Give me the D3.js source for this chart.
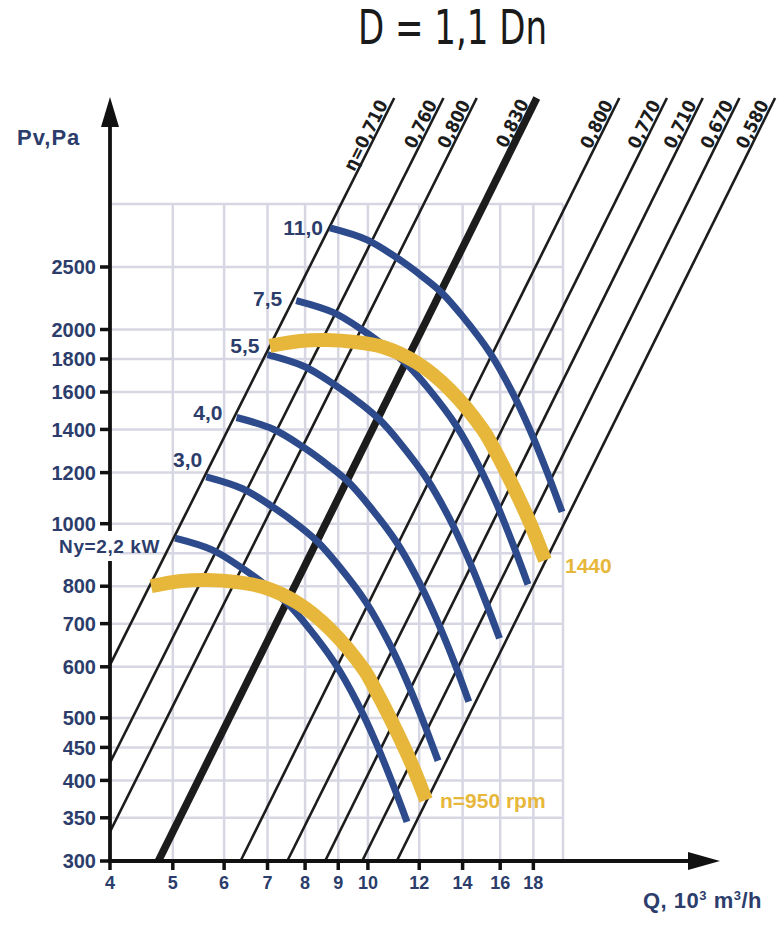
<!DOCTYPE html>
<html><head><meta charset="utf-8">
<script src="https://cdn.jsdelivr.net/npm/d3@7"></script>
<style>body{margin:0;background:#fff}</style>
</head><body>
<svg id="c" width="782" height="943"></svg>
<script>
// ---------- DATA ----------
const xTicks = [4,5,6,7,8,9,10,12,14,16,18];
const xGrid  = [5,6,7,8,9,10,12,14,16,18,20];
const yTicks = [300,350,400,450,500,600,700,800,1000,1200,1400,1600,1800,2000,2500];
const yGrid  = [350,400,450,500,600,700,800,900,1000,1200,1400,1600,1800,2000,2500,3130];
const gridMaxQ = 20, gridMaxP = 3130;

// efficiency lines (system lines), start and end points [Q, Pv]
const effLabels = ["η=0,710","0,760","0,800","0,830","0,800","0,770","0,710","0,670","0,580"];
const effStart  = [[4,604],[4,426],[4,333],[4.75,300],[6.36,300],[7.51,300],[8.59,300],[9.80,300],[11.08,300]];
const effEnd    = [[10.98,4570],[13.08,4570],[14.72,4570],[18.22,4570],[24.43,4570],[28.93,4570],[32.86,4570],[37.44,4570],[42.49,4570]];
const effBest   = 3; // index of the bold (peak) line

// motor power curves
const powerLabels = ["Ny=2,2 kW","3,0","4,0","5,5","7,5","11,0"];
const powerQ = [
  [5.04,5.75,6.39,7.01,7.50,8.08,8.89,9.62,10.25,10.89,11.49],
  [5.63,6.42,7.14,7.83,8.37,9.02,9.93,10.74,11.45,12.16,12.83],
  [6.27,7.16,7.96,8.73,9.34,10.06,11.08,11.98,12.77,13.57,14.31],
  [7.00,7.98,8.88,9.74,10.42,11.23,12.35,13.36,14.24,15.13,15.96],
  [7.75,8.84,9.83,10.78,11.53,12.43,13.68,14.79,15.77,16.75,17.66],
  [8.74,9.97,11.09,12.16,13.01,14.02,15.43,16.69,17.79,18.90,19.93]
];
const powerP = [
  [950,911,854,798,754,692,608,529,462,398,345],
  [1182,1132,1061,992,937,860,756,658,574,495,429],
  [1461,1400,1313,1227,1159,1064,935,814,710,612,530],
  [1829,1753,1643,1536,1450,1331,1171,1019,889,766,664],
  [2218,2126,1993,1862,1759,1615,1420,1236,1078,928,805],
  [2874,2754,2582,2413,2279,2092,1840,1601,1397,1203,1043]
];

// fan speed curves
const speedLabels = ["n=950 rpm","1440"];
const speedQ = [
  [4.63,5.15,5.67,6.26,6.91,7.80,8.77,9.87,10.22,10.86,11.66,12.29],
  [7.06,7.86,8.65,9.55,10.55,11.91,13.39,15.06,15.60,16.57,17.79,18.76]
];
const speedP = [
  [800,815,818,812,797,753,684,593,558,496,426,373],
  [1886,1920,1927,1913,1879,1775,1612,1397,1315,1169,1003,878]
];

// ---------- STYLE / LAYOUT ----------
const NAVY = "#2c3d6c", BLUE = "#2d4b8c", GOLD = "#e7b73b", GRID = "#d7d7e3", INK = "#1c1c1c";
const powerLabelOffset = [[-15,15],[-4,-10],[-14,3],[-8,-2],[-14,5],[-7,7]];
const speedLabelOffset = [[14,8],[20,13]];

const svg = d3.select("#c");
const x = d3.scaleLog().domain([4,20]).range([110,563]);
const y = d3.scaleLog().domain([300,2500]).range([861,267]);
const x0 = x(4), y0 = y(300);
const FONT = "'Liberation Sans', Arial, sans-serif";
const COND = "'DejaVu Sans Condensed', 'Liberation Sans Narrow', sans-serif";

// grid
const g = svg.append("g");
g.selectAll(".vg").data(xGrid).join("line")
  .attr("x1", d => x(d)).attr("x2", d => x(d))
  .attr("y1", y0).attr("y2", y(gridMaxP))
  .attr("stroke", GRID).attr("stroke-width", 2.5);
g.selectAll(".hg").data(yGrid).join("line")
  .attr("x1", x0).attr("x2", x(gridMaxQ))
  .attr("y1", d => y(d)).attr("y2", d => y(d))
  .attr("stroke", GRID).attr("stroke-width", 2.5);

// efficiency lines
const eff = effLabels.map((l,i) => ({label:l, s:effStart[i], e:effEnd[i], best:i===effBest}));
svg.append("g").selectAll("line").data(eff).join("line")
  .attr("x1", d => x(d.s[0])).attr("y1", d => y(d.s[1]))
  .attr("x2", d => x(d.e[0])).attr("y2", d => y(d.e[1]))
  .attr("stroke", INK).attr("stroke-width", d => d.best ? 7.5 : 2.6);

const effLab = svg.append("g");
eff.forEach(d => {
  const p0 = [x(d.s[0]), y(d.s[1])], p1 = [x(d.e[0]), y(d.e[1])];
  const ang = Math.atan2(p1[1]-p0[1], p1[0]-p0[0]);
  const ux = Math.cos(ang), uy = Math.sin(ang);
  const nx = uy, ny = -ux;
  const back = 8, off = d.best ? 4.5 : 2.5;
  const tx = p1[0] - ux*back + nx*off, ty = p1[1] - uy*back + ny*off;
  effLab.append("text")
    .attr("transform", `translate(${tx},${ty}) rotate(${ang*180/Math.PI})`)
    .attr("text-anchor", "end")
    .attr("font-family", COND).attr("font-weight", "bold").attr("font-size", 18)
    .attr("fill", INK).text(d.label);
});

const line = d3.line().x(d => x(d[0])).y(d => y(d[1])).curve(d3.curveCatmullRom.alpha(0.5));

// power curves
const power = powerLabels.map((l,i) => ({label:l, pts: powerQ[i].map((q,j) => [q, powerP[i][j]]), off: powerLabelOffset[i]}));
svg.append("g").selectAll("path").data(power).join("path")
  .attr("d", d => line(d.pts)).attr("fill", "none")
  .attr("stroke", BLUE).attr("stroke-width", 7);

// speed curves
const speed = speedLabels.map((l,i) => ({label:l, pts: speedQ[i].map((q,j) => [q, speedP[i][j]]), off: speedLabelOffset[i]}));
svg.append("g").selectAll("path").data(speed).join("path")
  .attr("d", d => line(d.pts)).attr("fill", "none")
  .attr("stroke", GOLD).attr("stroke-width", 14);

// axes
const ax = svg.append("g");
ax.append("line").attr("x1", x0).attr("x2", x0).attr("y1", y0+2).attr("y2", 125)
  .attr("stroke", "#111").attr("stroke-width", 3.8);
ax.append("path").attr("d", `M${x0-9},127 L${x0+9},127 L${x0},97 Z`).attr("fill", "#111");
ax.append("line").attr("x1", x0-2).attr("x2", 690).attr("y1", y0).attr("y2", y0)
  .attr("stroke", "#111").attr("stroke-width", 3.8);
ax.append("path").attr("d", `M688,${y0-9} L688,${y0+9} L720,${y0} Z`).attr("fill", "#111");

ax.selectAll(".yt").data(yTicks).join("line")
  .attr("x1", x0-10).attr("x2", x0).attr("y1", d => y(d)).attr("y2", d => y(d))
  .attr("stroke", "#111").attr("stroke-width", 3.5);
ax.selectAll(".xt").data(xTicks).join("line")
  .attr("x1", d => x(d)).attr("x2", d => x(d)).attr("y1", y0).attr("y2", y0+9)
  .attr("stroke", "#111").attr("stroke-width", 3.5);

// break in the y axis behind the power label
svg.append("rect").attr("x", x0-10).attr("y", 531).attr("width", 20).attr("height", 30).attr("fill", "#fff");

// tick labels
svg.append("g").selectAll("text").data(yTicks).join("text")
  .attr("x", 96).attr("y", d => y(d)).attr("dy", "0.36em")
  .attr("text-anchor", "end").attr("font-family", FONT).attr("font-weight", "bold")
  .attr("font-size", 20).attr("fill", NAVY).text(d => d);
svg.append("g").selectAll("text").data(xTicks).join("text")
  .attr("x", d => x(d)).attr("y", 889)
  .attr("text-anchor", "middle").attr("font-family", FONT).attr("font-weight", "bold")
  .attr("font-size", 18).attr("fill", NAVY).text(d => d);

// curve labels
svg.append("g").selectAll("text").data(power).join("text")
  .attr("x", d => x(d.pts[0][0]) + d.off[0]).attr("y", d => y(d.pts[0][1]) + d.off[1])
  .attr("text-anchor", "end").attr("font-family", FONT).attr("font-weight", "bold")
  .attr("font-size", (d,i) => i === 0 ? 19 : 21).attr("letter-spacing", (d,i) => i === 0 ? 0.6 : 0)
  .attr("fill", NAVY).text(d => d.label);
svg.append("g").selectAll("text").data(speed).join("text")
  .attr("x", d => x(d.pts[d.pts.length-1][0]) + d.off[0]).attr("y", d => y(d.pts[d.pts.length-1][1]) + d.off[1])
  .attr("text-anchor", "start").attr("font-family", FONT).attr("font-weight", "bold")
  .attr("font-size", 21).attr("fill", GOLD).text(d => d.label);

// axis titles
svg.append("text").attr("x", 17).attr("y", 145).attr("font-family", FONT).attr("font-weight", "bold")
  .attr("font-size", 22).attr("letter-spacing", 1).attr("fill", NAVY).text("Pv,Pa");
const qt = svg.append("text").attr("x", 643).attr("y", 908).attr("font-family", FONT).attr("font-weight", "bold")
  .attr("font-size", 22).attr("letter-spacing", 0.5).attr("fill", NAVY);
qt.append("tspan").text("Q, 10");
qt.append("tspan").attr("dy", -8).attr("font-size", 13).text("3");
qt.append("tspan").attr("dy", 8).text(" m");
qt.append("tspan").attr("dy", -8).attr("font-size", 13).text("3");
qt.append("tspan").attr("dy", 8).text("/h");

// title
svg.append("text").attr("x", 358).attr("y", 44)
  .attr("font-family", COND).attr("font-size", 48).attr("fill", "#1a1a1a")
  .attr("textLength", 189).attr("lengthAdjust", "spacingAndGlyphs")
  .text("D = 1,1 Dn");
</script>
</body></html>
